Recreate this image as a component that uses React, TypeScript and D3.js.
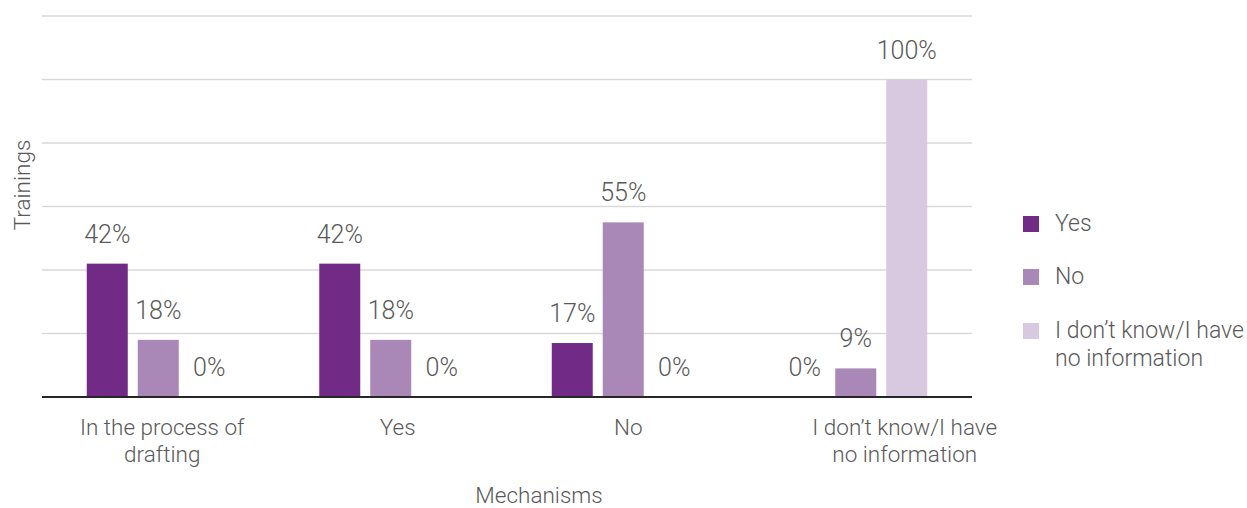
import React from "react";
import * as d3 from "d3";

const categories = ["In the process of|drafting", "Yes", "No", "I don’t know/I have|no information"];
const seriesNames = ["Yes", "No", "I don’t know/I have|no information"];
const seriesColors = ["#712b86", "#a987b6", "#d8c9e0"];
const yesValues = [42, 42, 17, 0];
const noValues = [18, 18, 55, 9];
const dkValues = [0, 0, 0, 100];
const yTicks = [0, 20, 40, 60, 80, 100, 120];
const categoryLabelDx = [4, 7, 5, 49];

const W = 1247;
const H = 508;
const FONT = "Roboto, 'Open Sans', sans-serif";
const TEXT = "#595959";

export default function App() {
  const series = [yesValues, noValues, dkValues];
  const x0 = d3.scaleBand<string>().domain(categories).range([42, 972]).paddingInner(0.385).paddingOuter(0.1925);
  const x1 = d3.scaleBand<string>().domain(seriesNames).range([0, x0.bandwidth()]).paddingInner(0.196);
  const y = d3.scaleLinear().domain([0, 120]).range([397, 16]);

  return (
    <svg width={W} height={H} style={{ position: "absolute", left: 0, top: 0, fontFamily: FONT }}>
      <rect width={W} height={H} fill="#fff" />
      {yTicks.filter((t) => t > 0).map((t) => (
        <line key={t} x1={42} x2={972} y1={y(t)} y2={y(t)} stroke="#d9d9d9" strokeWidth={1.5} />
      ))}
      {categories.map((c, ci) =>
        seriesNames.map((s, si) => {
          const v = series[si][ci];
          const bx = (x0(c) as number) + (x1(s) as number);
          const bw = x1.bandwidth();
          return (
            <g key={c + s}>
              {v > 0 && <rect x={bx} y={y(v)} width={bw} height={y(0) - y(v)} fill={seriesColors[si]} />}
              <text x={bx + bw / 2} y={y(v) - 21} textAnchor="middle" fontSize={25} fontWeight={300} fill={TEXT}>
                {v}%
              </text>
            </g>
          );
        })
      )}
      <line x1={42} x2={972} y1={y(0)} y2={y(0)} stroke="#262626" strokeWidth={2} />
      {categories.map((c, ci) => {
        const cx = (x0(c) as number) + x0.bandwidth() / 2 + categoryLabelDx[ci];
        return (
          <text key={c} x={cx} y={435} textAnchor="middle" fontSize={22.5} fontWeight={300} fill={TEXT}>
            {c.split("|").map((line, li) => (
              <tspan key={li} x={cx} dy={li === 0 ? 0 : 27}>
                {line}
              </tspan>
            ))}
          </text>
        );
      })}
      <text x={539} y={503} textAnchor="middle" fontSize={22.5} fontWeight={300} fill={TEXT}>
        Mechanisms
      </text>
      <text transform="translate(30,185) rotate(-90)" textAnchor="middle" fontSize={22.5} fontWeight={300} fill={TEXT}>
        Trainings
      </text>
      {seriesNames.map((s, si) => {
        const top = [216, 269, 323][si];
        return (
          <g key={s}>
            <rect x={1023} y={top} width={16} height={16} fill={seriesColors[si]} />
            <text x={1055} y={top + 15} fontSize={23} fontWeight={300} fill={TEXT}>
              {s.split("|").map((line, li) => (
                <tspan key={li} x={1055} dy={li === 0 ? 0 : 28}>
                  {line}
                </tspan>
              ))}
            </text>
          </g>
        );
      })}
    </svg>
  );
}
